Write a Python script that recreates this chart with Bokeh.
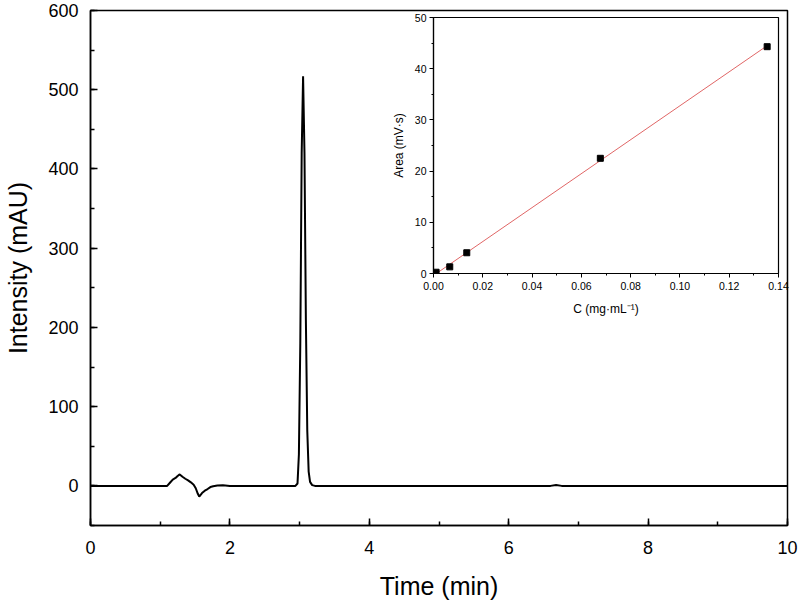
import numpy as np
from bokeh.plotting import figure
from bokeh.models import Range1d, SingleIntervalTicker, PrintfTickFormatter
from bokeh.embed import file_html
from bokeh.resources import INLINE

# Chromatogram
time_min = [0.0, 1.10, 1.14, 1.18, 1.22, 1.25, 1.28, 1.32, 1.36, 1.40, 1.44, 1.48,
            1.51, 1.54, 1.56, 1.60, 1.64, 1.68, 1.72, 1.76, 1.82, 1.90, 2.00,
            2.94, 2.97, 2.99, 3.01, 3.03, 3.05, 3.07, 3.09, 3.11, 3.13, 3.15,
            3.18, 3.22, 3.30, 6.60, 6.68, 6.76, 10.0]
intensity = [0.0, 0.0, 4.0, 8.0, 10.0, 12.5, 14.5, 11.5, 9.0, 7.0, 4.5, 1.5,
             -3.0, -10.0, -13.5, -9.0, -6.0, -4.0, -1.5, -0.5, 0.5, 0.8, 0.0,
             0.0, 3.0, 40.0, 180.0, 420.0, 517.0, 420.0, 210.0, 70.0, 18.0, 5.0,
             1.0, 0.0, 0.0, 0.0, 1.2, 0.0, 0.0]

# Calibration inset
conc = [0.00105, 0.0066, 0.0135, 0.0677, 0.1354]
area = [0.25, 1.3, 4.05, 22.5, 44.3]

FONT = "Liberation Sans"

p = figure(width=798, height=602, output_backend="svg", toolbar_location=None,
           x_range=Range1d(0, 10), y_range=Range1d(-50, 600),
           min_border_left=90, min_border_right=11, min_border_top=10, min_border_bottom=77)
p.grid.visible = False
p.outline_line_color = "black"
p.outline_line_width = 1.5
p.background_fill_color = "white"
p.border_fill_color = "white"

p.line(time_min, intensity, line_color="black", line_width=2)

p.xaxis.ticker = SingleIntervalTicker(interval=2, num_minor_ticks=2)
p.yaxis.ticker = SingleIntervalTicker(interval=100, num_minor_ticks=2)
for ax in (p.xaxis[0], p.yaxis[0]):
    ax.axis_line_width = 1.5
    ax.major_tick_line_width = 1.5
    ax.minor_tick_line_width = 1.5
    ax.major_tick_in = 7
    ax.major_tick_out = 0
    ax.minor_tick_in = 4
    ax.minor_tick_out = 0
    ax.major_label_text_font = FONT
    ax.major_label_text_font_size = "18px"
    ax.major_label_text_color = "black"
    ax.axis_label_text_font = FONT
    ax.axis_label_text_font_size = "25px"
    ax.axis_label_text_font_style = "normal"
    ax.axis_label_text_color = "black"
p.xaxis.axis_label = "Time (min)"
p.yaxis.axis_label = "Intensity (mAU)"
p.xaxis.major_label_standoff = 15
p.yaxis.major_label_standoff = 12
p.xaxis.axis_label_standoff = 15
p.yaxis.axis_label_standoff = 13

# Inset figure, placed over the main plot
ins = figure(width=404, height=312, output_backend="svg", toolbar_location=None,
             x_range=Range1d(0, 0.14), y_range=Range1d(0, 50),
             min_border_left=42, min_border_right=14, min_border_top=8, min_border_bottom=48,
             styles={"position": "absolute", "left": "388px", "top": "9px"})
ins.grid.visible = False
ins.outline_line_color = "black"
ins.outline_line_width = 1.2
ins.background_fill_color = "white"
ins.border_fill_alpha = 0.0

slope, intercept = np.polyfit(conc, area, 1)
fx = [min(conc), max(conc)]
fy = [slope * v + intercept for v in fx]
ins.line(fx, fy, line_color="#e06666", line_width=1)
ins.scatter(conc, area, marker="square", size=6, fill_color="black", line_color="black")

ins.xaxis.ticker = SingleIntervalTicker(interval=0.02, num_minor_ticks=2)
ins.yaxis.ticker = SingleIntervalTicker(interval=10, num_minor_ticks=2)
ins.xaxis.formatter = PrintfTickFormatter(format="%.2f")
for ax in (ins.xaxis[0], ins.yaxis[0]):
    ax.axis_line_width = 1.2
    ax.major_tick_line_width = 1
    ax.minor_tick_line_width = 1
    ax.major_tick_in = 0
    ax.major_tick_out = 4
    ax.minor_tick_in = 0
    ax.minor_tick_out = 2
    ax.major_label_text_font = FONT
    ax.major_label_text_font_size = "10.5px"
    ax.major_label_text_color = "black"
    ax.axis_label_text_font = FONT
    ax.axis_label_text_font_size = "12px"
    ax.axis_label_text_font_style = "normal"
    ax.axis_label_text_color = "black"
ins.xaxis.axis_label = "C (mg·mL⁻¹)"
ins.yaxis.axis_label = "Area (mV·s)"
ins.xaxis.major_label_standoff = 4
ins.yaxis.major_label_standoff = 3
ins.xaxis.axis_label_standoff = 9
ins.yaxis.axis_label_standoff = 6

open("out.html", "w").write(file_html([p, ins], INLINE))
